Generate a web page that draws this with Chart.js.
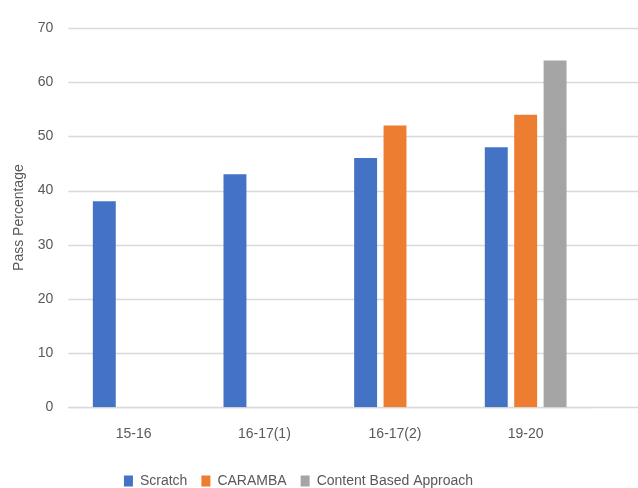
<!DOCTYPE html>
<html>
<head>
<meta charset="utf-8">
<script src="https://cdn.jsdelivr.net/npm/chart.js@4/dist/chart.umd.min.js"></script>
<style>
  html, body { margin: 0; padding: 0; background: #ffffff; overflow: hidden; }
  #wrap { width: 638px; height: 488px; position: relative; overflow: hidden; }
</style>
</head>
<body>
<div id="wrap"><canvas id="chart" width="638" height="498"></canvas></div>
<script>
// Academic years compared
const categories = ['15-16', '16-17(1)', '16-17(2)', '19-20'];

// Pass percentage per teaching approach (null = approach not used that year)
const scratch = [38, 43, 46, 48];
const caramba = [null, null, 52, 54];
const contentBased = [null, null, null, 64];

const seriesNames = ['Scratch', 'CARAMBA', 'Content Based Approach'];
const yTicks = [0, 10, 20, 30, 40, 50, 60, 70];

const FONT = "'Liberation Sans', Arial, sans-serif";
const TEXT = '#595959';
const GRID = '#d9d9d9';

// Horizontal gridlines run from the plot's left edge to the right edge of the canvas
const fullWidthGrid = {
  id: 'fullWidthGrid',
  beforeDatasetsDraw(chart) {
    const { ctx, chartArea, scales } = chart;
    const y = scales.y;
    ctx.save();
    ctx.strokeStyle = GRID;
    ctx.lineWidth = 1.3;
    y.ticks.forEach(t => {
      const py = Math.round(y.getPixelForValue(t.value)) + 0.5;
      ctx.beginPath();
      ctx.moveTo(chartArea.left, py);
      ctx.lineTo(chart.width, py);
      ctx.stroke();
    });
    ctx.restore();
  }
};

new Chart(document.getElementById('chart'), {
  type: 'bar',
  data: {
    labels: categories,
    datasets: [
      { label: seriesNames[0], data: scratch, backgroundColor: '#4472C4' },
      { label: seriesNames[1], data: caramba, backgroundColor: '#ED7D31' },
      { label: seriesNames[2], data: contentBased, backgroundColor: '#A5A5A5' }
    ]
  },
  options: {
    responsive: false,
    animation: false,
    devicePixelRatio: 1,
    categoryPercentage: 0.675,
    barPercentage: 0.78,
    layout: { padding: { top: 28, right: 47, bottom: 0, left: 6 } },
    plugins: {
      tooltip: { enabled: false },
      legend: {
        position: 'bottom',
        labels: {
          font: { family: FONT, size: 14 },
          color: TEXT,
          boxWidth: 9,
          boxHeight: 11,
          padding: 14
        }
      }
    },
    scales: {
      x: {
        grid: { display: false },
        border: { display: true, color: GRID, width: 1.3 },
        ticks: { font: { family: FONT, size: 14 }, color: TEXT, padding: 11 },
        afterFit(axis) { axis.height += 6; }
      },
      y: {
        min: 0,
        max: 70,
        afterBuildTicks(axis) { axis.ticks = yTicks.map(v => ({ value: v })); },
        grid: { display: false, drawTicks: false },
        border: { display: false },
        ticks: { font: { family: FONT, size: 14 }, color: TEXT, padding: 15 },
        title: {
          display: true,
          text: 'Pass Percentage',
          font: { family: FONT, size: 14 },
          color: TEXT,
          padding: { top: 5, bottom: -5 }
        }
      }
    }
  },
  plugins: [fullWidthGrid]
});
</script>
</body>
</html>
